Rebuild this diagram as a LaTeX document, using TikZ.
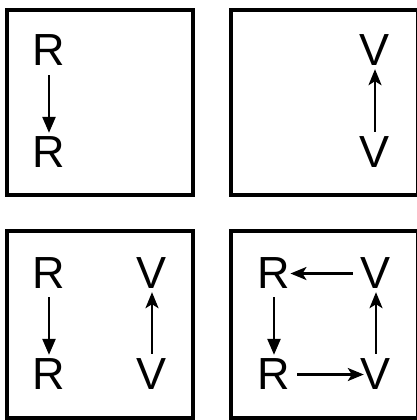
\documentclass[tikz,border=0pt]{standalone}
\usepackage{fontspec}
\setmainfont{Liberation Sans}
\usetikzlibrary{arrows.meta}
\begin{document}
\begin{tikzpicture}[x=1pt,y=1pt,
  box/.style={draw=black,line width=3.4pt},
  lett/.style={inner sep=0pt,anchor=base,font=\fontsize{45}{45}\selectfont},
  rarr/.style={line width=2.4pt,-{Triangle[length=16pt,width=13pt]}},
  varr/.style={line width=2.4pt,-{Stealth[length=16pt,width=13pt,inset=4pt]}}]
\useasboundingbox (0,0) rectangle (417,420);
\clip (0,0) rectangle (417,420);
% boxes
\draw[box] (7,225) rectangle (193,410);
\draw[box] (231,225) rectangle (418,410);
\draw[box] (7,2) rectangle (193,189);
\draw[box] (231,2) rectangle (418,189);
% top-left
\node[lett] (a1) at (49,354) {R};
\node[lett] (a2) at (49,252) {R};
\draw[rarr,shorten <=9pt,shorten >=4pt] (a1.south) -- (a2.north);
% top-right
\node[lett] (b1) at (375,354) {V};
\node[lett] (b2) at (375,252) {V};
\draw[varr,shorten <=5pt,shorten >=3pt] (b2.north) -- (b1.south);
% bottom-left
\node[lett] (c1) at (49,131) {R};
\node[lett] (c2) at (49,30) {R};
\node[lett] (c3) at (152,131) {V};
\node[lett] (c4) at (152,30) {V};
\draw[rarr,shorten <=8pt,shorten >=4pt] (c1.south) -- (c2.north);
\draw[varr,shorten <=5pt,shorten >=3pt] (c4.north) -- (c3.south);
% bottom-right
\node[lett] (d1) at (274,131) {R};
\node[lett] (d2) at (274,30) {R};
\node[lett] (d3) at (376,131) {V};
\node[lett] (d4) at (376,30) {V};
\draw[rarr,shorten <=8pt,shorten >=4pt] (d1.south) -- (d2.north);
\draw[varr,shorten <=5pt,shorten >=3pt] (d4.north) -- (d3.south);
\draw[varr,shorten <=8pt,shorten >=0pt] (d3.west) -- (d1.east);
\draw[varr,shorten <=7pt,shorten >=-3pt] (d2.east) -- (d4.west);
\end{tikzpicture}
\end{document}
